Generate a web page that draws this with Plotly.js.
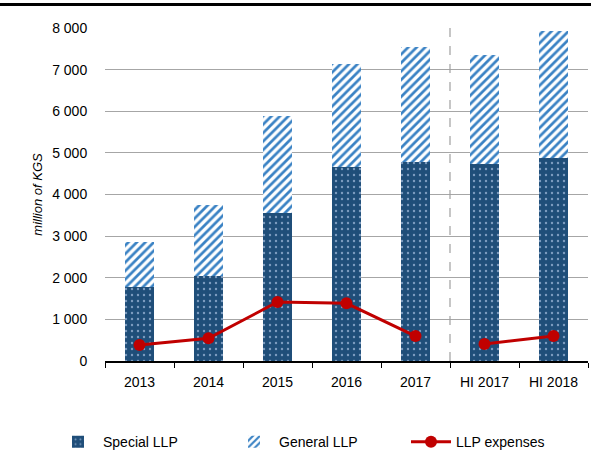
<!DOCTYPE html>
<html>
<head>
<meta charset="utf-8">
<script src="https://cdn.plot.ly/plotly-3.0.1.min.js"></script>
<style>html,body{margin:0;padding:0;background:#fff;}#wrap{position:relative;width:591px;height:453px;}#chart{width:591px;height:453px;}#rule{position:absolute;left:0;top:3px;width:591px;height:3px;background:#000;}</style>
</head>
<body>
<div id="wrap"><div id="chart"></div><div id="rule"></div></div>
<script>
var categories = ["2013", "2014", "2015", "2016", "2017", "HI 2017", "HI 2018"];
var specialLLP = [1780, 2040, 3550, 4670, 4790, 4730, 4880];
var generalLLP = [1090, 1710, 2340, 2470, 2750, 2610, 3060];
var llpExpenses = [384, 545, 1417, 1386, 600, 408, 600];
var annualCount = 5;

var font = "Liberation Sans, Arial, sans-serif";

var traces = [
  {
    type: "bar", name: "Special LLP", x: categories, y: specialLLP, legend: "legend",
    width: 0.41,
    marker: {color: "#1f4e79", line: {width: 0},
      pattern: {shape: ".", bgcolor: "#1f4e79", fgcolor: "#7d9cc0", size: 6, solidity: 0.12}},
    hoverinfo: "skip"
  },
  {
    type: "bar", name: "General LLP", x: categories, y: generalLLP, legend: "legend2",
    width: 0.41,
    marker: {color: "#ffffff", line: {width: 0},
      pattern: {shape: "/", bgcolor: "#ffffff", fgcolor: "#3a82c4", size: 6, solidity: 0.45}},
    hoverinfo: "skip"
  },
  {
    type: "scatter", mode: "lines+markers", name: "LLP expenses", legendgroup: "exp", legend: "legend3",
    x: categories.slice(0, annualCount), y: llpExpenses.slice(0, annualCount),
    line: {color: "#c00000", width: 3}, marker: {color: "#c00000", size: 12}
  },
  {
    type: "scatter", mode: "lines+markers", name: "LLP expenses", legendgroup: "exp", showlegend: false, legend: "legend3",
    x: categories.slice(annualCount), y: llpExpenses.slice(annualCount),
    line: {color: "#c00000", width: 3}, marker: {color: "#c00000", size: 12}
  }
];

function legendAt(xpx) {
  return {orientation: "h", xref: "container", yref: "container",
    x: xpx / 591, y: 0.024, xanchor: "left", yanchor: "middle",
    font: {family: font, size: 14}, itemwidth: 40};
}

var layout = {
  width: 591, height: 453,
  margin: {l: 105, r: 3, t: 28, b: 92},
  paper_bgcolor: "#ffffff", plot_bgcolor: "#ffffff",
  barmode: "stack",
  separators: ". ",
  font: {family: font, size: 14, color: "#000"},
  showlegend: true,
  legend: legendAt(53),
  legend2: legendAt(229),
  legend3: legendAt(406),
  xaxis: {
    type: "category", showgrid: false, showline: true, linecolor: "#000", linewidth: 1.5,
    ticks: "outside", tickson: "boundaries", ticklen: 5, tickcolor: "#000",
    ticklabelstandoff: 8,
    tickfont: {family: font, size: 14}, fixedrange: true
  },
  yaxis: {
    range: [0, 8000], dtick: 1000, tickformat: ",d",
    showgrid: true, gridcolor: "#a6a6a6", gridwidth: 1, zeroline: false, showline: false,
    ticks: "outside", ticklen: 14, tickcolor: "rgba(0,0,0,0)",
    tickfont: {family: font, size: 14},
    title: {text: "million of KGS", font: {family: font, size: 13, style: "italic"}, standoff: 6},
    fixedrange: true
  },
  shapes: [
    {type: "line", xref: "x", yref: "paper", x0: 4.5, x1: 4.5, y0: 0, y1: 1,
     line: {color: "#a0a0a0", width: 1.2, dash: "dash"}}
  ]
};

Plotly.newPlot("chart", traces, layout, {displayModeBar: false, staticPlot: true});
</script>
</body>
</html>
